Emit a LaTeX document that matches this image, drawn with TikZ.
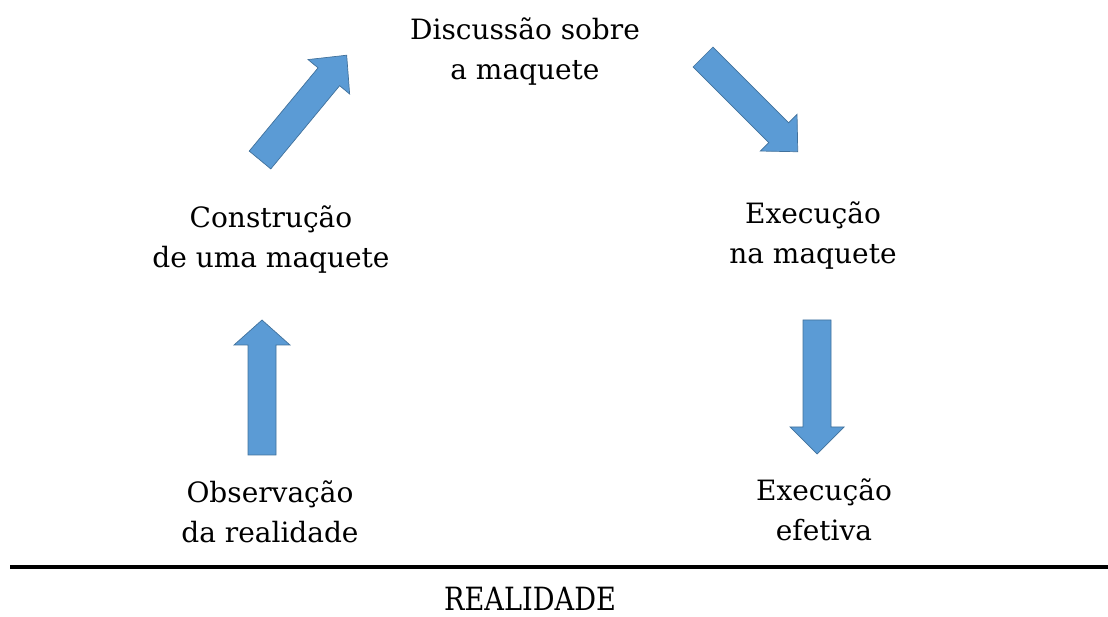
\documentclass[tikz,border=0pt]{standalone}
\usepackage{fontspec}
\setmainfont{DejaVu Serif}
\definecolor{arrowfill}{RGB}{91,155,213}
\definecolor{arrowedge}{RGB}{65,113,156}
\tikzset{
  blocktxt/.style={align=center, inner sep=0pt, font=\fontsize{28}{40}\selectfont},
  fatarrow/.style={fill=arrowfill, draw=arrowedge, line width=0.7pt, line join=miter},
}
% #1 name, #2 tail point, #3 angle, #4 length, #5 head length, #6 head half width
\newcommand\bigarrow[6]{%
  \begin{scope}[shift={#2}, rotate=#3]
    \coordinate (#1-tail) at (0,0);
    \coordinate (#1-tip) at (#4,0);
    \filldraw[fatarrow] (0,-14) -- (#4-#5,-14) -- (#4-#5,-#6) -- (#1-tip)
      -- (#4-#5,#6) -- (#4-#5,14) -- (0,14) -- cycle;
  \end{scope}}
\begin{document}
\begin{tikzpicture}[x=1pt,y=1pt]
\useasboundingbox (0,0) rectangle (1108,616);
\node[blocktxt] (disc) at (525,564) {Discussão sobre\\a maquete};
\node[blocktxt] (constr) at (271,376) {Construção\\de uma maquete};
\node[blocktxt] (exmaq) at (813,380) {Execução\\na maquete};
\node[blocktxt] (obs) at (270,104) {Observação\\da realidade};
\node[blocktxt] (exef) at (824,106) {Execução\\efetiva};
\bigarrow{a1}{(262,161)}{90}{135}{25}{28}
\bigarrow{a2}{(260,456)}{50.4}{136}{28}{27}
\bigarrow{a3}{(703,559)}{-45}{134}{27}{26}
\bigarrow{a4}{(817,296)}{-90}{134}{27}{27}
\coordinate (lineL) at (10,49);
\coordinate (lineR) at (1108,49);
\draw[line width=4pt] (lineL) -- (lineR);
\node[anchor=base, inner sep=0pt, font=\fontsize{32}{36}\selectfont] (real) at (530,6) {\scalebox{0.85}[1]{REALIDADE}};
\end{tikzpicture}
\end{document}
